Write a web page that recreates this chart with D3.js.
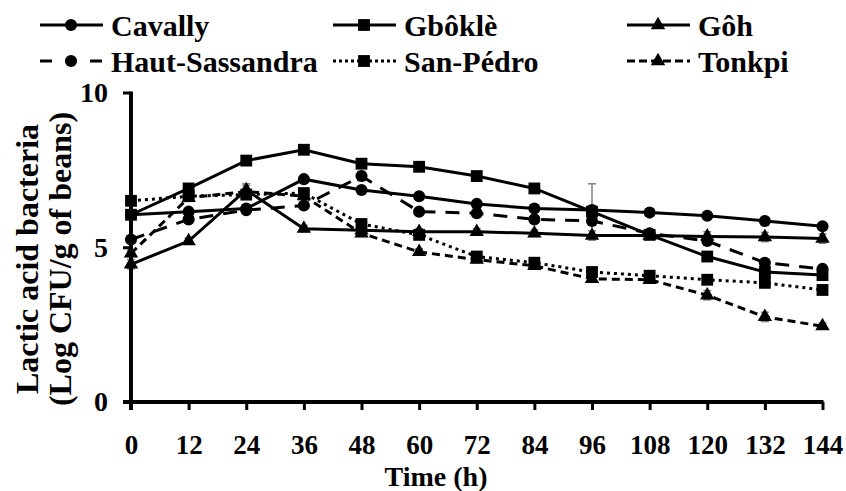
<!DOCTYPE html>
<html>
<head>
<meta charset="utf-8">
<script src="https://cdn.jsdelivr.net/npm/d3@7"></script>
<style>
  body { margin: 0; background: #fff; }
</style>
</head>
<body>
<div id="chart"></div>
<script>
// Sampling times (h)
const hours = [0, 12, 24, 36, 48, 60, 72, 84, 96, 108, 120, 132, 144];
const yTicks = [0, 5, 10];

// Log CFU/g of beans
const cavally = [6.05, 6.15, 6.25, 7.2, 6.85, 6.65, 6.4, 6.25, 6.2, 6.12, 6.02, 5.85, 5.68];
const gbokle = [6.05, 6.9, 7.8, 8.15, 7.7, 7.6, 7.3, 6.9, 6.15, 5.4, 4.7, 4.2, 4.1];
const goh = [4.45, 5.2, 6.85, 5.6, 5.55, 5.5, 5.5, 5.45, 5.38, 5.38, 5.35, 5.33, 5.28];
const hautSassandra = [5.25, 5.9, 6.2, 6.35, 7.3, 6.15, 6.1, 5.9, 5.85, 5.45, 5.2, 4.5, 4.3];
const sanPedro = [6.5, 6.65, 6.7, 6.75, 5.75, 5.4, 4.7, 4.5, 4.2, 4.08, 3.95, 3.85, 3.62];
const tonkpi = [4.8, 6.6, 6.8, 6.65, 5.45, 4.85, 4.6, 4.4, 3.98, 3.95, 3.45, 2.75, 2.45];

// standard deviations (mostly tiny)
const cavallyErr = [0.1, 0.1, 0.1, 0.1, 0.1, 0.1, 0.1, 0.1, 0.1, 0.1, 0.1, 0.1, 0.1];
const gbokleErr = [0.1, 0.15, 0.1, 0.1, 0.1, 0.1, 0.1, 0.1, 0.9, 0.1, 0.1, 0.1, 0.1];
const gohErr = [0.15, 0.1, 0.2, 0.1, 0.15, 0.1, 0.1, 0.1, 0.15, 0.1, 0.15, 0.15, 0.15];
const hautSassandraErr = [0.1, 0.1, 0.1, 0.1, 0.15, 0.1, 0.1, 0.1, 0.1, 0.1, 0.1, 0.1, 0.1];
const sanPedroErr = [0.1, 0.1, 0.1, 0.1, 0.1, 0.1, 0.1, 0.1, 0.1, 0.1, 0.1, 0.1, 0.1];
const tonkpiErr = [0.1, 0.1, 0.2, 0.1, 0.1, 0.1, 0.1, 0.1, 0.1, 0.1, 0.15, 0.15, 0.1];

const series = [
  { name: "Cavally", values: cavally, err: cavallyErr, symbol: d3.symbolCircle, size: 115, dash: null, legDash: null },
  { name: "Gbôklè", values: gbokle, err: gbokleErr, symbol: d3.symbolSquare, size: 140, dash: null, legDash: null },
  { name: "Gôh", values: goh, err: gohErr, symbol: d3.symbolTriangle, size: 90, dash: null, legDash: null },
  { name: "Haut-Sassandra", values: hautSassandra, err: hautSassandraErr, symbol: d3.symbolCircle, size: 115, dash: "14,10", legDash: "12,13" },
  { name: "San-Pédro", values: sanPedro, err: sanPedroErr, symbol: d3.symbolSquare, size: 140, dash: "3,4", legDash: "3,3" },
  { name: "Tonkpi", values: tonkpi, err: tonkpiErr, symbol: d3.symbolTriangle, size: 90, dash: "8,5", legDash: "8,4" }
];

const FONT = "'Liberation Serif', 'Times New Roman', Times, serif";
const width = 846, height = 491;

const x = d3.scaleLinear().domain([0, 144]).range([131, 822.5]);
const y = d3.scaleLinear().domain([0, 10]).range([402, 92.5]);

const svg = d3.select("#chart").append("svg")
  .attr("width", width)
  .attr("height", height);

// error bars first, behind the lines
series.forEach(s => {
  const g = svg.append("g").attr("stroke", "#7f7f7f").attr("stroke-width", 1.5);
  hours.forEach((h, i) => {
    const cx = x(h), top = y(s.values[i] + s.err[i]), bot = y(s.values[i] - s.err[i]);
    g.append("line").attr("x1", cx).attr("x2", cx).attr("y1", top).attr("y2", bot);
    g.append("line").attr("x1", cx - 4).attr("x2", cx + 4).attr("y1", top).attr("y2", top);
    g.append("line").attr("x1", cx - 4).attr("x2", cx + 4).attr("y1", bot).attr("y2", bot);
  });
});

const line = d3.line().x((d, i) => x(hours[i])).y(d => y(d));

series.forEach(s => {
  svg.append("path")
    .datum(s.values)
    .attr("d", line)
    .attr("fill", "none")
    .attr("stroke", "#000")
    .attr("stroke-width", 3)
    .attr("stroke-dasharray", s.dash);

  svg.append("g").selectAll("path")
    .data(s.values)
    .join("path")
    .attr("transform", (d, i) => `translate(${x(hours[i])},${y(d)})`)
    .attr("d", d3.symbol(s.symbol, s.size))
    .attr("fill", "#000");
});

// axes
const xAxis = svg.append("g")
  .attr("transform", `translate(0,${y(0)})`)
  .call(d3.axisBottom(x).tickValues(hours).tickSize(8).tickPadding(25).tickFormat(d3.format("d")));
xAxis.select(".domain").attr("stroke-width", 4).attr("d", `M${x(0) - 8},0H${x(144) + 1}`);
xAxis.selectAll(".tick line").attr("stroke-width", 3);
xAxis.selectAll("text")
  .style("font-family", FONT).style("font-weight", "bold").style("font-size", "27px")
  .attr("fill", "#000");

const yAxis = svg.append("g")
  .attr("transform", `translate(${x(0)},0)`)
  .call(d3.axisLeft(y).tickValues(yTicks).tickSize(8).tickPadding(15));
yAxis.select(".domain").attr("stroke-width", 4).attr("d", `M0,${y(10) - 1}V${y(0) + 8}`);
yAxis.selectAll(".tick line").attr("stroke-width", 3);
yAxis.selectAll("text")
  .style("font-family", FONT).style("font-weight", "bold").style("font-size", "28px")
  .attr("fill", "#000");

svg.append("text")
  .attr("x", 436).attr("y", 486)
  .attr("text-anchor", "middle")
  .style("font-family", FONT).style("font-weight", "bold").style("font-size", "28px")
  .text("Time (h)");

const yTitle = svg.append("text")
  .attr("transform", "translate(38,259) rotate(-90)")
  .attr("text-anchor", "middle")
  .style("font-family", FONT).style("font-weight", "bold").style("font-size", "32px");
yTitle.append("tspan").attr("x", 0).attr("dy", 0).text("Lactic acid bacteria");
yTitle.append("tspan").attr("x", 0).attr("dy", 33).text("(Log CFU/g of beans)");

// legend, two rows of three
const legendX = [40, 333, 627];
const legendY = [25, 61];
series.forEach((s, i) => {
  const lx = legendX[i % 3], ly = legendY[Math.floor(i / 3)];
  const g = svg.append("g").attr("transform", `translate(${lx},${ly})`);
  g.append("line")
    .attr("x1", 0).attr("x2", 63).attr("y1", 0).attr("y2", 0)
    .attr("stroke", "#000").attr("stroke-width", 3)
    .attr("stroke-dasharray", s.legDash);
  g.append("path")
    .attr("transform", "translate(31,0)")
    .attr("d", d3.symbol(s.symbol, s.size))
    .attr("fill", "#000");
  g.append("text")
    .attr("x", 71).attr("y", 11)
    .style("font-family", FONT).style("font-weight", "bold").style("font-size", "30px")
    .text(s.name);
});
</script>
</body>
</html>
